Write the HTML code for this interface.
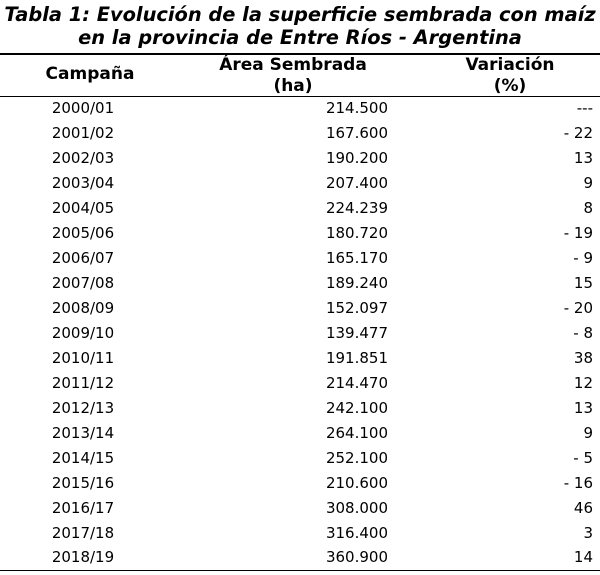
<!DOCTYPE html>
<html><head><meta charset="utf-8"><style>
body{margin:0;width:600px;height:575px;background:#fff;position:relative;overflow:hidden;font-family:"DejaVu Sans","Liberation Sans",sans-serif;color:#000}
.t{position:absolute;left:0;width:600px;text-align:center;font-weight:bold;font-style:italic;font-size:19.4px;line-height:22px;white-space:nowrap}
.h{position:absolute;font-weight:bold;font-size:17px;text-align:center;line-height:21px;white-space:nowrap}
.line{position:absolute;left:0;width:600px;background:#000}
.r{position:absolute;left:0;width:600px;height:25px;font-size:15px;line-height:25px}
.r span{position:absolute;white-space:nowrap}
.c1{left:33px;width:100px;text-align:center}
.c2{right:212px;text-align:right}
.c3{right:7px;text-align:right}
</style></head><body>
<div class="t" style="top:4px">Tabla 1: Evolución de la superficie sembrada con maíz</div>
<div class="t" style="top:27px">en la provincia de Entre Ríos - Argentina</div>
<div class="line" style="top:53px;height:2px"></div>
<div class="h" style="left:20px;width:140px;top:64px">Campaña</div>
<div class="h" style="left:193px;width:200px;top:55px">Área Sembrada<br>(ha)</div>
<div class="h" style="left:430px;width:160px;top:55px">Variación<br>(%)</div>
<div class="line" style="top:96px;height:1px"></div>
<div class="r" style="top:96px"><span class="c1">2000/01</span><span class="c2">214.500</span><span class="c3">---</span></div>
<div class="r" style="top:121px"><span class="c1">2001/02</span><span class="c2">167.600</span><span class="c3">- 22</span></div>
<div class="r" style="top:146px"><span class="c1">2002/03</span><span class="c2">190.200</span><span class="c3">13</span></div>
<div class="r" style="top:171px"><span class="c1">2003/04</span><span class="c2">207.400</span><span class="c3">9</span></div>
<div class="r" style="top:196px"><span class="c1">2004/05</span><span class="c2">224.239</span><span class="c3">8</span></div>
<div class="r" style="top:221px"><span class="c1">2005/06</span><span class="c2">180.720</span><span class="c3">- 19</span></div>
<div class="r" style="top:246px"><span class="c1">2006/07</span><span class="c2">165.170</span><span class="c3">- 9</span></div>
<div class="r" style="top:271px"><span class="c1">2007/08</span><span class="c2">189.240</span><span class="c3">15</span></div>
<div class="r" style="top:296px"><span class="c1">2008/09</span><span class="c2">152.097</span><span class="c3">- 20</span></div>
<div class="r" style="top:321px"><span class="c1">2009/10</span><span class="c2">139.477</span><span class="c3">- 8</span></div>
<div class="r" style="top:346px"><span class="c1">2010/11</span><span class="c2">191.851</span><span class="c3">38</span></div>
<div class="r" style="top:371px"><span class="c1">2011/12</span><span class="c2">214.470</span><span class="c3">12</span></div>
<div class="r" style="top:396px"><span class="c1">2012/13</span><span class="c2">242.100</span><span class="c3">13</span></div>
<div class="r" style="top:421px"><span class="c1">2013/14</span><span class="c2">264.100</span><span class="c3">9</span></div>
<div class="r" style="top:446px"><span class="c1">2014/15</span><span class="c2">252.100</span><span class="c3">- 5</span></div>
<div class="r" style="top:471px"><span class="c1">2015/16</span><span class="c2">210.600</span><span class="c3">- 16</span></div>
<div class="r" style="top:496px"><span class="c1">2016/17</span><span class="c2">308.000</span><span class="c3">46</span></div>
<div class="r" style="top:521px"><span class="c1">2017/18</span><span class="c2">316.400</span><span class="c3">3</span></div>
<div class="r" style="top:545px"><span class="c1">2018/19</span><span class="c2">360.900</span><span class="c3">14</span></div>
<div class="line" style="top:570px;height:1px"></div>
</body></html>
